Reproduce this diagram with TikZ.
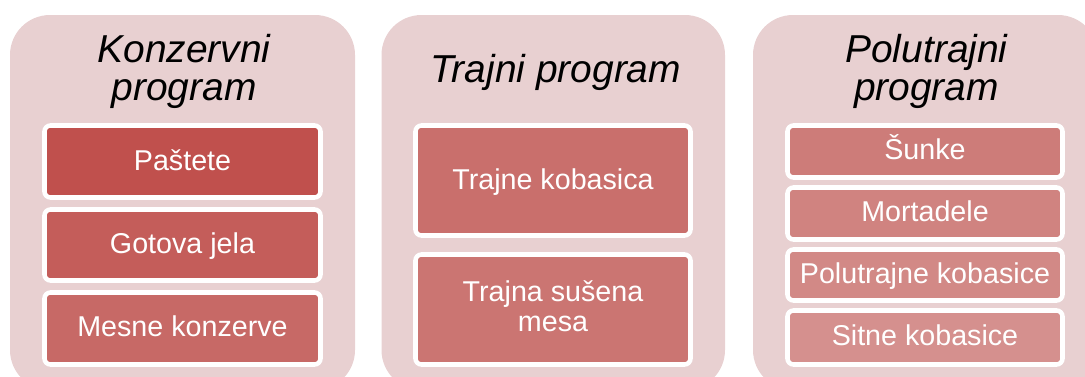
\documentclass[tikz,border=0pt]{standalone}
\usepackage{fontspec}
\setmainfont{Liberation Sans}
\definecolor{panelfill}{HTML}{E8D0D1}
\definecolor{cA}{HTML}{C0504D}
\definecolor{cB}{HTML}{C45D5A}
\definecolor{cC}{HTML}{C76966}
\definecolor{cD}{HTML}{C96F6C}
\definecolor{cE}{HTML}{CB7572}
\definecolor{cF}{HTML}{CD7C79}
\definecolor{cG}{HTML}{D08380}
\definecolor{cH}{HTML}{D28986}
\definecolor{cI}{HTML}{D5908E}
\tikzset{
  panel/.style={fill=panelfill, draw=none, rounded corners=30pt},
  itembox/.style={draw=white, line width=3.4pt, rounded corners=4.5pt},
  itemtext/.style={text=white, font=\fontsize{21.5}{22.5}\selectfont, align=center, inner sep=0pt},
  titletext/.style={text=black, font=\fontsize{29.2}{28.5}\selectfont\itshape, align=center, inner sep=0pt}
}
\begin{document}
\begin{tikzpicture}[x=0.75pt,y=-0.75pt]
\useasboundingbox (0,0) rectangle (1085,376);
\clip (0,0) rectangle (1085,376);
% panels
\path[panel] (10,15) rectangle (355,390);
\path[panel] (381.5,15) rectangle (725,390);
\path[panel] (753,15) rectangle (1098,390);
% titles
\node[titletext] (t1) at (184,71.5) {Konzervni\\program};
\node[titletext, anchor=base] (t2) at (556,82) {Trajni program};
\node[titletext] (t3) at (926.5,71.5) {Polutrajni\\program};
% panel 1 boxes
\path[itembox, fill=cA] (44.5,125.5) rectangle (320.5,197.5);
\path[itembox, fill=cB] (44.5,209.5) rectangle (320.5,280.5);
\path[itembox, fill=cC] (44.5,292.5) rectangle (320.5,364.5);
\node[itemtext, anchor=base] (a1) at (182.5,170) {Paštete};
\node[itemtext, anchor=base] (a2) at (182.5,253.5) {Gotova jela};
\node[itemtext, anchor=base] (a3) at (182.5,336.5) {Mesne konzerve};
% panel 2 boxes
\path[itembox, fill=cD] (415.5,125.5) rectangle (690.5,235.5);
\path[itembox, fill=cE] (415.5,254.5) rectangle (690.5,364.5);
\node[itemtext, anchor=base] (b1) at (553,189) {Trajne kobasica};
\node[itemtext] (b2) at (553,306.5) {Trajna sušena\\mesa};
% panel 3 boxes
\path[itembox, fill=cF] (787.5,125.5) rectangle (1062.5,177.5);
\path[itembox, fill=cG] (787.5,187.5) rectangle (1062.5,239.5);
\path[itembox, fill=cH] (787.5,249.5) rectangle (1062.5,300.5);
\path[itembox, fill=cI] (787.5,310.5) rectangle (1062.5,364.5);
\node[itemtext, anchor=base] (c1) at (925,159.5) {Šunke};
\node[itemtext, anchor=base] (c2) at (925,221.5) {Mortadele};
\node[itemtext, anchor=base] (c3) at (925,283.5) {Polutrajne kobasice};
\node[itemtext, anchor=base] (c4) at (925,345.5) {Sitne kobasice};
\end{tikzpicture}
\end{document}
